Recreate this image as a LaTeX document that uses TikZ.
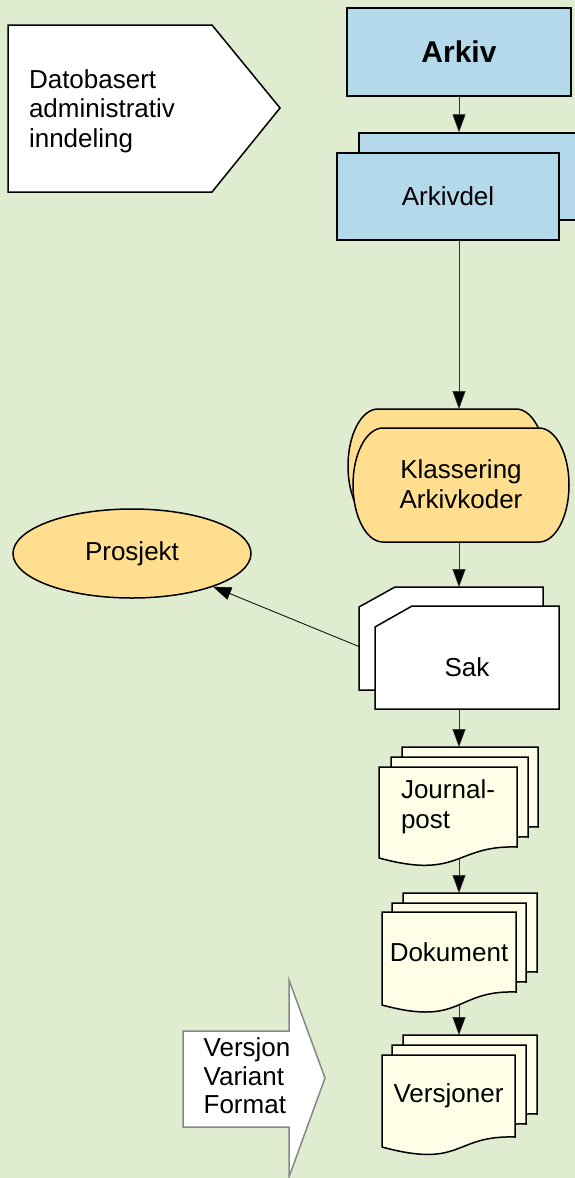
\documentclass[tikz,border=0pt]{standalone}
\usepackage{fontspec}
\setmainfont{Liberation Sans}
\usetikzlibrary{arrows.meta,calc,shapes.geometric}

\definecolor{bgcol}{RGB}{223,236,207}
\definecolor{boxblue}{RGB}{180,217,235}
\definecolor{boxorange}{RGB}{255,222,143}
\definecolor{docyellow}{RGB}{255,255,232}
\definecolor{linegray}{RGB}{50,50,50}
\definecolor{arrowgray}{RGB}{135,135,135}

\pgfdeclarelayer{back}
\pgfdeclarelayer{conn}
\pgfsetlayers{back,conn,main}

% capsule with half-elliptic ends: cx, cy, half width, half height, end depth
\newcommand\capsulepath[5]{%
  ({#1-#3+#5},{#2-#4}) -- ({#1+#3-#5},{#2-#4})
  .. controls ({#1+#3-0.4477*#5},{#2-#4}) and ({#1+#3},{#2-0.5523*#4}) .. ({#1+#3},#2)
  .. controls ({#1+#3},{#2+0.5523*#4}) and ({#1+#3-0.4477*#5},{#2+#4}) .. ({#1+#3-#5},{#2+#4})
  -- ({#1-#3+#5},{#2+#4})
  .. controls ({#1-#3+0.4477*#5},{#2+#4}) and ({#1-#3},{#2+0.5523*#4}) .. ({#1-#3},#2)
  .. controls ({#1-#3},{#2-0.5523*#4}) and ({#1-#3+0.4477*#5},{#2-#4}) .. cycle}

% document sheet with wavy bottom: left, top, right, bottom right, bottom left
\newcommand\docpath[5]{%
  (#1,#2) -- (#3,#2) -- (#3,#4)
  .. controls ({#3-62},{#4-2}) and ({#1+81},{#5+22}) .. (#1,#5) -- cycle}

\begin{document}
\begin{tikzpicture}[x=1pt,y=-1pt,
  txt/.style={font=\fontsize{26}{29.5}\selectfont},
  shapeline/.style={draw=black, line width=1.5pt},
  bluebox/.style={rectangle, shapeline, fill=boxblue, inner sep=0pt},
  frame/.style={rectangle, draw=none, inner sep=0pt, outer sep=0pt},
  tip/.style={-{Triangle[length=18pt,width=13pt,fill=black,line width=0.5pt]}},
  conn/.style={draw=linegray, line width=1pt, tip},
  linkconn/.style={draw=black, line width=0.8pt, tip}]

\useasboundingbox (0,0) rectangle (575,1178);
\begin{pgfonlayer}{back}
  \fill[bgcol] (0,0) rectangle (575,1178);
\end{pgfonlayer}
\clip (0,0) rectangle (575,1178);

\coordinate (spine) at (459,0);

% pointer box at the top left
\draw[shapeline, fill=white] (8,25) -- (212,25) -- (280,108) -- (212,192) -- (8,192) -- cycle;
\node[txt, align=left, inner sep=0pt] (dato) at (102,111) {Datobasert\\administrativ\\inndeling};

% archive and archive parts
\node[bluebox, minimum width=224pt, minimum height=88pt,
      font=\fontsize{30}{34}\selectfont\bfseries] (arkiv) at (459,52) {Arkiv};
\node[bluebox, minimum width=222pt, minimum height=87pt] (arkivdelback) at (470,176.5) {};
\node[bluebox, minimum width=222pt, minimum height=87pt, txt] (arkivdel) at (448,196.5) {Arkivdel};

% classification
\draw[shapeline, fill=boxorange] \capsulepath{447}{466}{99}{57}{30};
\draw[shapeline, fill=boxorange] \capsulepath{461}{485}{108}{57}{30};
\node[frame, minimum width=198pt, minimum height=114pt] (klassback) at (447,466) {};
\node[frame, minimum width=216pt, minimum height=114pt, txt, align=center] (klass) at (461,484) {Klassering\\Arkivkoder};

% project
\node[ellipse, shapeline, fill=boxorange, minimum width=238pt, minimum height=89pt,
      inner sep=0pt, txt] (prosjekt) at (132,553.5) {Prosjekt};

% case files
\draw[shapeline, fill=white] (359,607) -- (395,587) -- (543,587) -- (543,690) -- (359,690) -- cycle;
\draw[shapeline, fill=white] (375,627) -- (412,606) -- (559,606) -- (559,709) -- (375,709) -- cycle;
\node[frame, minimum width=184pt, minimum height=103pt] (sakback) at (451,638.5) {};
\node[frame, minimum width=184pt, minimum height=103pt, txt,
      text height=37.6pt, text depth=0pt] (sak) at (467,657.5) {Sak};

% document stacks
\foreach \L/\T/\R/\yR/\yL in {
    402/747/538/827/838, 391/757/528/837/848, 379/767/517/847/858,
    403/893/537/972/983, 392/903/526/982/993, 382/912/516/992/1005,
    403/1035/537/1114/1125, 392/1045/526/1124/1135, 382/1055/515/1137/1147}
  \draw[shapeline, fill=docyellow] \docpath{\L}{\T}{\R}{\yR}{\yL};

\node[frame, minimum width=136pt, minimum height=80pt] (jpback) at (470,787) {};
\node[frame, minimum width=138pt, minimum height=80pt, txt, align=left] (jp) at (448,807) {Journal-\\post};
\node[frame, minimum width=134pt, minimum height=79pt] (dokback) at (470,932.5) {};
\node[frame, minimum width=134pt, minimum height=80pt, txt] (dok) at (449,952) {Dokument};
\node[frame, minimum width=134pt, minimum height=79pt] (verback) at (470,1074.5) {};
\node[frame, minimum width=133pt, minimum height=82pt, txt] (ver) at (448.5,1096) {Versjoner};

% block arrow at the bottom left
\draw[line width=1.5pt, draw=arrowgray, fill=white]
  (183,1031) -- (289,1031) -- (289,980) -- (325,1078) -- (289,1177) -- (289,1127) -- (183,1127) -- cycle;
\node[font=\fontsize{26}{28.5}\selectfont, align=left, inner sep=0pt] (versjon) at (247,1076) {Versjon\\Variant\\Format};

% connectors
\begin{pgfonlayer}{conn}
  \draw[conn] (arkiv.south) -- (arkiv.south |- arkivdelback.north);
  \draw[conn] (arkivdel.south -| spine) -- (klassback.north -| spine);
  \draw[conn] (klass.south -| spine) -- (sakback.north -| spine);
  \draw[conn] (sak.south -| spine) -- (jpback.north -| spine);
  \draw[conn] (jp.south -| spine) -- (dokback.north -| spine);
  \draw[conn] (dok.south -| spine) -- (verback.north -| spine);
  \draw[linkconn] (sakback.185) -- (prosjekt);
\end{pgfonlayer}
\end{tikzpicture}
\end{document}
